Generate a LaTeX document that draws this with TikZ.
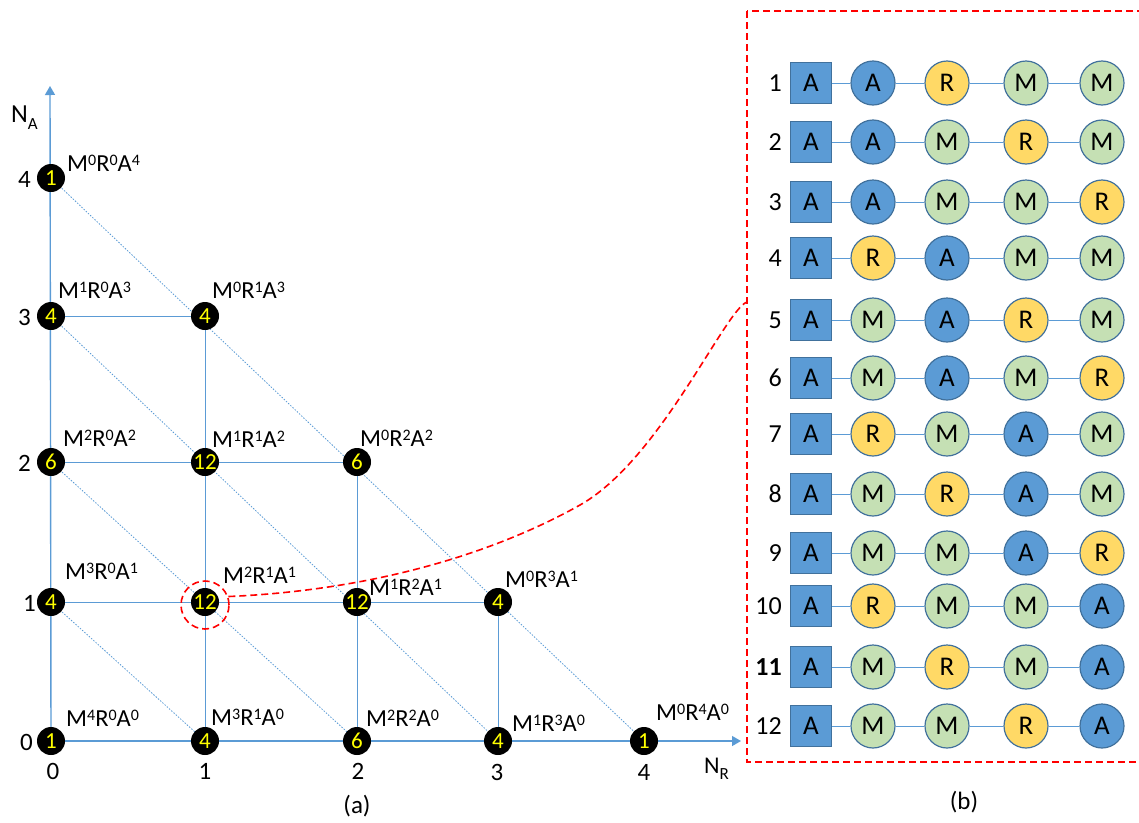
\documentclass[tikz,border=0pt]{standalone}
\usepackage{fontspec}
\setmainfont{Carlito}
\usetikzlibrary{arrows.meta,backgrounds,calc}

\definecolor{lineblue}{HTML}{5B9BD5}
\definecolor{edgeblue}{HTML}{41719C}
\definecolor{fillA}{HTML}{5B9BD5}
\definecolor{fillR}{HTML}{FFD966}
\definecolor{fillM}{HTML}{C5E0B4}
\definecolor{numyellow}{HTML}{FFFF00}
\definecolor{hlred}{HTML}{FF0000}

% superscript / subscript helpers set in the text font
\newcommand\up[1]{\raisebox{0.24em}{\fontsize{16}{16}\selectfont #1}}
\newcommand\dn[1]{\raisebox{-0.28em}{\fontsize{17}{17}\selectfont #1}}
\newcommand\mra[3]{M\up{#1}R\up{#2}A\up{#3}}

\begin{document}
\begin{tikzpicture}[x=1pt,y=-1pt,
  state/.style={circle,fill=black,minimum size=28pt,inner sep=0pt,
    text=numyellow,font=\fontsize{23}{23}\selectfont},
  lab/.style={anchor=base west,inner sep=0pt,font=\fontsize{24.5}{24.5}\selectfont},
  tick/.style={inner sep=0pt,font=\fontsize{25}{25}\selectfont},
  grid/.style={draw=lineblue,line width=1pt},
  axis/.style={draw=lineblue,line width=1.4pt,-{Triangle[length=9pt,width=10pt]}},
  diag/.style={draw=lineblue,line width=0.8pt,dash pattern=on 1.5pt off 1.5pt},
  hl/.style={draw=hlred,line width=1.6pt,dash pattern=on 7pt off 4pt},
  sq/.style={rectangle,draw=edgeblue,line width=1.2pt,fill=fillA,minimum size=41pt,
    inner sep=0pt,font=\fontsize{27}{27}\selectfont},
  ball/.style={circle,draw=edgeblue,line width=1.2pt,fill=fill#1,minimum size=44pt,
    inner sep=0pt,font=\fontsize{27}{27}\selectfont},
  link/.style={draw=lineblue,line width=1pt},
  rownum/.style={anchor=east,inner sep=0pt,font=\fontsize{26}{26}\selectfont}
]
\useasboundingbox (0,0) rectangle (1139,822);

% ---------- (a) state lattice ----------
\node[state] (g04) at (51,178) {1};
\node[state] (g03) at (51,316) {4};
\node[state] (g13) at (205,316) {4};
\node[state] (g02) at (51,462) {6};
\node[state] (g12) at (205,462) {12};
\node[state] (g22) at (357,462) {6};
\node[state] (g01) at (51,602) {4};
\node[state] (g11) at (205,602) {12};
\node[state] (g21) at (357,602) {12};
\node[state] (g31) at (498,602) {4};
\node[state] (g00) at (51,741) {1};
\node[state] (g10) at (205,741) {4};
\node[state] (g20) at (357,741) {6};
\node[state] (g30) at (498,741) {4};
\node[state] (g40) at (644,741) {1};

\coordinate (xend) at (741,741);
\coordinate (yend) at (50,86);

\begin{pgfonlayer}{background}
  \draw[axis] (g00.center) -- (xend);
  \draw[axis] (g00.center) -- (yend);
  \draw[grid] (g03.center) -- (g13.center);
  \draw[grid] (g02.center) -- (g22.center);
  \draw[grid] (g01.center) -- (g31.center);
  \draw[grid] (g10.center) -- (g13.center);
  \draw[grid] (g20.center) -- (g22.center);
  \draw[grid] (g30.center) -- (g31.center);
  \draw[diag] (g04.center) -- (g40.center);
  \draw[diag] (g03.center) -- (g30.center);
  \draw[diag] (g02.center) -- (g20.center);
  \draw[diag] (g01.center) -- (g10.center);
\end{pgfonlayer}

% state labels
\node[lab] (l04) at (67,171) {\mra{0}{0}{4}};
\node[lab] (l03) at (58,298) {\mra{1}{0}{3}};
\node[lab] (l13) at (212,298) {\mra{0}{1}{3}};
\node[lab] (l02) at (63,446) {\mra{2}{0}{2}};
\node[lab] (l12) at (212,447) {\mra{1}{1}{2}};
\node[lab] (l22) at (360,446) {\mra{0}{2}{2}};
\node[lab] (l01) at (65,579) {\mra{3}{0}{1}};
\node[lab] (l11) at (223,583) {\mra{2}{1}{1}};
\node[lab] (l21) at (369,595) {\mra{1}{2}{1}};
\node[lab] (l31) at (505,587) {\mra{0}{3}{1}};
\node[lab] (l00) at (66,726) {\mra{4}{0}{0}};
\node[lab] (l10) at (211,725) {\mra{3}{1}{0}};
\node[lab] (l20) at (366,726) {\mra{2}{2}{0}};
\node[lab] (l30) at (512,731) {\mra{1}{3}{0}};
\node[lab] (l40) at (656,720) {\mra{0}{4}{0}};

% axis ticks and titles
\node[tick,anchor=east] (ty4) at (31,179) {4};
\node[tick,anchor=east] (ty3) at (31,317) {3};
\node[tick,anchor=east] (ty2) at (31,463) {2};
\node[tick,anchor=east] (ty1) at (36,603) {1};
\node[tick,anchor=east] (ty0) at (33,742) {0};
\node[tick] (tx0) at (53,771) {0};
\node[tick] (tx1) at (205,771) {1};
\node[tick] (tx2) at (358,771) {2};
\node[tick] (tx3) at (497,772) {3};
\node[tick] (tx4) at (644,772) {4};
\node[anchor=base west,inner sep=0pt,font=\fontsize{26}{26}\selectfont] (na) at (11,122) {N\dn{A}};
\node[anchor=base west,inner sep=0pt,font=\fontsize{24}{24}\selectfont] (nr) at (704,773) {N\dn{R}};
\node[tick] (capa) at (357,806) {(a)};

% highlighted state and its zoom link
\node[circle,hl,minimum size=48pt,inner sep=0pt] (hc) at (205,605) {};
\coordinate (pend) at (747,302);
\draw[hl] (hc.20) .. controls (380,590) and (500,550) .. (580,505)
          .. controls (660,460) and (725,310) .. (pend);

% ---------- (b) arrangements of the highlighted state ----------
\draw[hl] (747,11) rectangle (1146,762);

\foreach \i/\y/\a/\b/\c/\d in {
   1/83/A/R/M/M,   2/142/A/M/R/M,  3/202/A/M/M/R,  4/258/R/A/M/M,
   5/320/M/A/R/M,  6/378/M/A/M/R,  7/434/R/M/A/M,  8/494/M/R/A/M,
   9/553/M/M/A/R, 10/606/R/M/M/A, 11/667/M/R/M/A, 12/726/M/M/R/A} {
  \node[rownum] (n\i) at (782,\y) {\ifnum\i=11 \bfseries\fi\i};
  \node[sq] (s\i) at (811,\y) {A};
  \node[ball=\a] (b\i-1) at (873,\y) {\a};
  \node[ball=\b] (b\i-2) at (947,\y) {\b};
  \node[ball=\c] (b\i-3) at (1026,\y) {\c};
  \node[ball=\d] (b\i-4) at (1102,\y) {\d};
  \draw[link] (s\i) -- (b\i-1) -- (b\i-2) -- (b\i-3) -- (b\i-4);
}

\node[tick] (capb) at (964,802) {(b)};
\end{tikzpicture}
\end{document}
